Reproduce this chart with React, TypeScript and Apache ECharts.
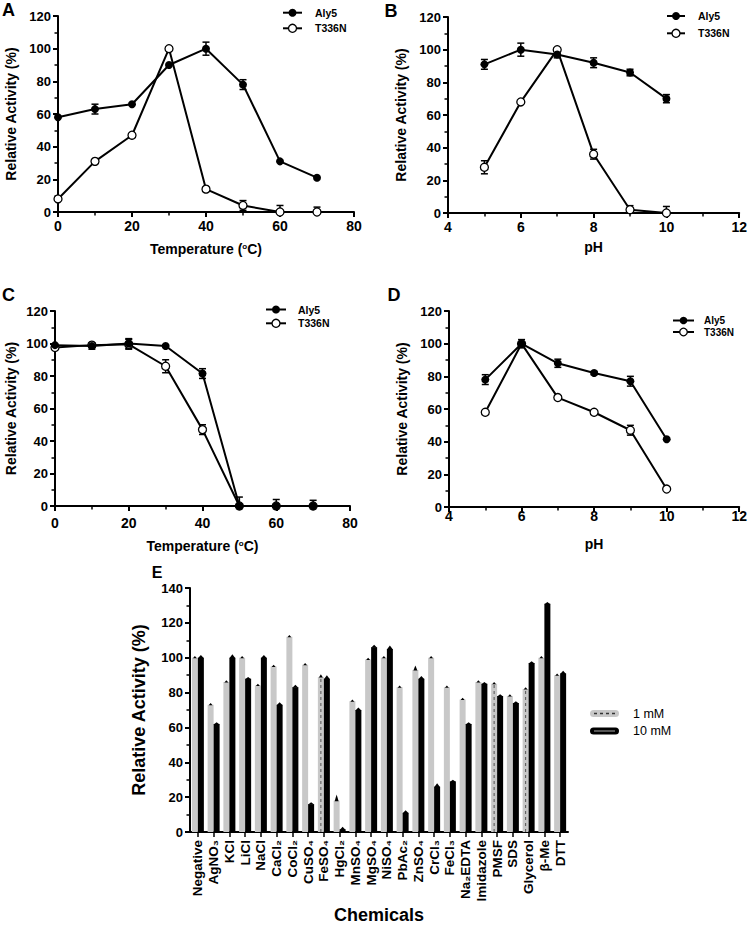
import React, { useEffect, useRef } from 'react';
import * as echarts from 'echarts';

const FONT = "'Liberation Sans', Arial, Helvetica, sans-serif";

const seriesNames = ['Aly5', 'T336N'];
const panelLetters = ['A', 'B', 'C', 'D', 'E'];

const temperatureX = [0, 10, 20, 30, 40, 50, 60, 70];
const pHX = [5, 6, 7, 8, 9, 10];

// Panel A: optimal temperature
const aAly5 = [58, 63, 66, 90, 100, 78, 31, 21];
const aAly5Err = [0, 3, 0, 0, 4, 3, 0, 0];
const aT336N = [8, 31, 47, 100, 14, 4, 0, 0];
const aT336NErr = [0, 0, 0, 0, 0, 3, 4, 3];

// Panel B: optimal pH
const bAly5 = [91, 100, 97, 92, 86, 70];
const bAly5Err = [3, 4, 2, 3, 2, 2.5];
const bT336N = [28, 68, 100, 36, 2, 0];
const bT336NErr = [4, 0, 0, 3, 2.5, 4];

// Panel C: thermal stability
const cAly5 = [99, 98.5, 100, 98.5, 81.5, 0, 0, 0];
const cAly5Err = [0, 2, 3, 0, 3, 0, 0, 0];
const cT336N = [97.5, 99, 99.5, 86, 47, 0, 0, 0];
const cT336NErr = [0, 0, 3, 4, 3, 5.5, 4, 3.5];

// Panel D: pH stability
const dAly5 = [78, 100, 88, 82, 77, 41.5];
const dAly5Err = [3, 2.5, 2.5, 1, 3, 0];
const dT336N = [58, 100, 67, 58, 47, 11];
const dT336NErr = [0, 0, 0, 0, 3, 0];

// Panel E: chemicals
const chemicals = ['Negative', 'AgNO₃', 'KCl', 'LiCl', 'NaCl', 'CaCl₂', 'CoCl₂', 'CuSO₄', 'FeSO₄', 'HgCl₂', 'MnSO₄', 'MgSO₄', 'NiSO₄', 'PbAc₂', 'ZnSO₄', 'CrCl₃', 'FeCl₃', 'Na₂EDTA', 'Imidazole', 'PMSF', 'SDS', 'Glycerol', 'β-Me', 'DTT'];
const concentrationNames = ['1 mM', '10 mM'];
const oneMM = [100, 73, 86, 100, 84, 95, 112, 96, 89, 18, 75, 99, 100, 83, 93, 100, 83, 76, 86, 85, 78, 82, 100, 90];
const oneMMErr = [1, 1, 1, 1, 1, 1, 1, 1, 1.5, 3.5, 1, 1, 1, 1, 2.5, 1, 1, 1, 1, 1, 1, 1, 1, 1];
const tenMM = [100, 62, 100, 88, 100, 73, 83, 16, 88, 1.5, 70, 106, 105, 11, 88, 26, 29, 62, 85, 78, 74, 97, 131, 91];
const tenMMErr = [1.5, 1, 2, 1, 1.5, 1.5, 1.5, 1, 2, 1.5, 1.5, 1.5, 2, 1.5, 1.5, 2, 1, 1, 1, 1, 1, 1, 1, 1.5];
const dashedOneMM = ['FeSO₄', 'PMSF', 'Glycerol'];

const BAR_W = 6;

function errRender(params: any, api: any) {
  const x = api.value(0);
  const y = api.value(1);
  const e = api.value(2);
  const low = y - e;
  const pTop = api.coord([x, y + e]);
  const pBot = api.coord([x, Math.max(low, 0)]);
  const cw = 3.5;
  const st = { stroke: '#000', lineWidth: 1.5 };
  const children: any[] = [
    { type: 'line', shape: { x1: pTop[0], y1: pTop[1], x2: pBot[0], y2: pBot[1] }, style: st },
    { type: 'line', shape: { x1: pTop[0] - cw, y1: pTop[1], x2: pTop[0] + cw, y2: pTop[1] }, style: st },
  ];
  if (low > 0) {
    children.push({ type: 'line', shape: { x1: pBot[0] - cw, y1: pBot[1], x2: pBot[0] + cw, y2: pBot[1] }, style: st });
  }
  return { type: 'group', children };
}

function capRender(offset: number, halfW: number) {
  return (params: any, api: any) => {
    const i = api.value(0);
    const v = api.value(1);
    const e = api.value(2);
    const b = api.coord([i, v]);
    const t = api.coord([i, v + e]);
    const x = b[0] + offset;
    return {
      type: 'polygon',
      shape: { points: [[x - halfW, b[1] + 0.5], [x, t[1]], [x + halfW, b[1] + 0.5]] },
      style: { fill: '#000' },
    };
  };
}

function dashRender(params: any, api: any) {
  const i = api.value(0);
  const v = api.value(1);
  const b = api.coord([i, 0]);
  const t = api.coord([i, v]);
  const x = b[0] - BAR_W / 2;
  return {
    type: 'line',
    shape: { x1: x, y1: b[1], x2: x, y2: t[1] },
    style: { stroke: '#555', lineWidth: 1, lineDash: [3, 3] },
  };
}

const boldText = (size: number) => ({ color: '#000', fontFamily: FONT, fontWeight: 'bold' as const, fontSize: size });

function lineLegend(x1: number, x2: number, textX: number, y1: number, y2: number, fs = 10.5, r = 4) {
  const cx = (x1 + x2) / 2;
  const txt = (s: string, y: number) => ({
    type: 'text', x: textX, y,
    style: { text: s, fill: '#000', font: `bold ${fs}px ${FONT}`, textAlign: 'left', textVerticalAlign: 'middle', align: 'left', verticalAlign: 'middle' },
  });
  return [
    { type: 'line', shape: { x1, y1, x2, y2: y1 }, style: { stroke: '#000', lineWidth: 2 } },
    { type: 'circle', shape: { cx, cy: y1, r }, style: { fill: '#000' } },
    txt(seriesNames[0], y1),
    { type: 'line', shape: { x1, y1: y2, x2, y2 }, style: { stroke: '#000', lineWidth: 2 } },
    { type: 'circle', shape: { cx, cy: y2, r }, style: { fill: '#fff', stroke: '#000', lineWidth: 1.3 } },
    txt(seriesNames[1], y2),
  ];
}

function letter(s: string, x: number, y: number, size = 18) {
  return {
    type: 'text', x, y,
    style: { text: s, fill: '#000', font: `bold ${size}px ${FONT}`, textAlign: 'center', textVerticalAlign: 'middle', align: 'center', verticalAlign: 'middle' },
  };
}

function buildOption() {
  const panels = [
    { xs: temperatureX, aly: aAly5, alyE: aAly5Err, t: aT336N, tE: aT336NErr, min: 0, max: 80, int: 20, temp: true, lblMargin: 7, nameGap: 30, yGap: 40 },
    { xs: pHX, aly: bAly5, alyE: bAly5Err, t: bT336N, tE: bT336NErr, min: 4, max: 12, int: 2, temp: false, lblMargin: 7, nameGap: 27, yGap: 40 },
    { xs: temperatureX, aly: cAly5, alyE: cAly5Err, t: cT336N, tE: cT336NErr, min: 0, max: 80, int: 20, temp: true, lblMargin: 10, nameGap: 33, yGap: 37 },
    { xs: pHX, aly: dAly5, alyE: dAly5Err, t: dT336N, tE: dT336NErr, min: 4, max: 12, int: 2, temp: false, lblMargin: 2, nameGap: 30, yGap: 40 },
  ];

  const grids = [
    { left: 58, top: 16, width: 296, height: 196 },
    { left: 448, top: 17, width: 294, height: 196 },
    { left: 55, top: 311, width: 295, height: 195 },
    { left: 449, top: 311, width: 293, height: 196 },
    { left: 190, top: 588, width: 378, height: 246 },
  ];

  const axisLine = { show: true, onZero: false, lineStyle: { color: '#000', width: 2 } };
  const axisTick = { show: true, length: 5, lineStyle: { color: '#000', width: 2 } };
  const minorTick = { show: true, splitNumber: 2, length: 3.5, lineStyle: { color: '#000', width: 1.5 } };

  const xAxis: any[] = [];
  const yAxis: any[] = [];
  const series: any[] = [];

  panels.forEach((p, gi) => {
    xAxis.push({
      gridIndex: gi, type: 'value', min: p.min, max: p.max, interval: p.int,
      axisLine, axisTick, minorTick, splitLine: { show: false }, minorSplitLine: { show: false },
      axisLabel: { ...boldText(14), margin: p.lblMargin },
      name: p.temp ? 'Temperature ({sup|o}C)' : 'pH',
      nameLocation: 'middle', nameGap: p.nameGap,
      nameTextStyle: { ...boldText(14), rich: { sup: { ...boldText(8), verticalAlign: 'top' } } },
    });
    yAxis.push({
      gridIndex: gi, type: 'value', min: 0, max: 120, interval: 20,
      axisLine, axisTick, minorTick, splitLine: { show: false }, minorSplitLine: { show: false },
      axisLabel: { ...boldText(13), margin: 7 },
      name: 'Relative Activity (%)', nameLocation: 'middle', nameGap: p.yGap,
      nameTextStyle: boldText(14),
    });
    const mk = (ys: number[], es: number[]) => p.xs.map((x, j) => [x, ys[j], es[j]]).filter((d) => d[2] > 0);
    series.push({
      type: 'custom', xAxisIndex: gi, yAxisIndex: gi, renderItem: errRender, data: mk(p.t, p.tE), z: 1, silent: true,
    });
    series.push({
      type: 'custom', xAxisIndex: gi, yAxisIndex: gi, renderItem: errRender, data: mk(p.aly, p.alyE), z: 1, silent: true,
    });
    series.push({
      type: 'line', name: seriesNames[1], xAxisIndex: gi, yAxisIndex: gi,
      data: p.xs.map((x, j) => [x, p.t[j]]),
      symbol: 'circle', symbolSize: 8,
      lineStyle: { color: '#000', width: 2 },
      itemStyle: { color: '#fff', borderColor: '#000', borderWidth: 1.3 },
      z: 3,
    });
    series.push({
      type: 'line', name: seriesNames[0], xAxisIndex: gi, yAxisIndex: gi,
      data: p.xs.map((x, j) => [x, p.aly[j]]),
      symbol: 'circle', symbolSize: 8,
      lineStyle: { color: '#000', width: 2 },
      itemStyle: { color: '#000' },
      z: 4,
    });
  });

  // Panel E
  xAxis.push({
    gridIndex: 4, type: 'category', data: chemicals,
    axisLine: { show: true, lineStyle: { color: '#000', width: 2 } },
    axisTick: { show: true, alignWithLabel: true, length: 5, lineStyle: { color: '#000', width: 1.5 } },
    axisLabel: { ...boldText(13.5), rotate: 90, interval: 0, margin: 8 },
    name: 'Chemicals', nameLocation: 'middle', nameGap: 74, nameTextStyle: boldText(18),
  });
  yAxis.push({
    gridIndex: 4, type: 'value', min: 0, max: 140, interval: 20,
    axisLine, axisTick, minorTick, splitLine: { show: false }, minorSplitLine: { show: false },
    axisLabel: { ...boldText(13), margin: 7 },
    name: 'Relative Activity (%)', nameLocation: 'middle', nameGap: 42, nameTextStyle: boldText(18),
  });
  series.push({
    type: 'bar', name: concentrationNames[0], xAxisIndex: 4, yAxisIndex: 4, data: oneMM,
    barWidth: BAR_W, barGap: '0%', itemStyle: { color: '#c8c8c8' },
  });
  series.push({
    type: 'bar', name: concentrationNames[1], xAxisIndex: 4, yAxisIndex: 4, data: tenMM,
    barWidth: BAR_W, barGap: '0%', itemStyle: { color: '#000' },
  });
  series.push({
    type: 'custom', xAxisIndex: 4, yAxisIndex: 4, z: 3, silent: true,
    renderItem: dashRender,
    data: oneMM.map((v, i) => [i, v]).filter((d) => dashedOneMM.includes(chemicals[d[0]])),
  });
  series.push({
    type: 'custom', xAxisIndex: 4, yAxisIndex: 4, z: 3, silent: true,
    renderItem: capRender(-BAR_W / 2, 2),
    data: oneMM.map((v, i) => [i, v, oneMMErr[i]]),
  });
  series.push({
    type: 'custom', xAxisIndex: 4, yAxisIndex: 4, z: 3, silent: true,
    renderItem: capRender(BAR_W / 2, 3),
    data: tenMM.map((v, i) => [i, v, tenMMErr[i]]),
  });

  const graphic: any[] = [
    letter(panelLetters[0], 8.5, 10),
    letter(panelLetters[1], 391, 10.5),
    letter(panelLetters[2], 8.5, 295),
    letter(panelLetters[3], 394, 295),
    letter(panelLetters[4], 157, 572, 16),
    ...lineLegend(283, 302, 315, 12.7, 28.3),
    ...lineLegend(667, 685, 698, 16, 33.3),
    ...lineLegend(266, 286, 298, 309.5, 323.3),
    ...lineLegend(673, 694, 704, 320.5, 332, 10, 3.8),
    // Panel E legend
    { type: 'rect', shape: { x: 590, y: 710, width: 29, height: 7, r: 3.5 }, style: { fill: '#c8c8c8' } },
    { type: 'line', shape: { x1: 594, y1: 713.5, x2: 615, y2: 713.5 }, style: { stroke: '#333', lineWidth: 1.5, lineDash: [3, 3] } },
    { type: 'rect', shape: { x: 590, y: 727.5, width: 29, height: 7, r: 3.5 }, style: { fill: '#000' } },
    { type: 'line', shape: { x1: 594, y1: 731, x2: 615, y2: 731 }, style: { stroke: '#aaa', lineWidth: 1 } },
    {
      type: 'text', x: 633, y: 713.5,
      style: { text: concentrationNames[0], fill: '#000', font: `12.5px ${FONT}`, textAlign: 'left', textVerticalAlign: 'middle', align: 'left', verticalAlign: 'middle' },
    },
    {
      type: 'text', x: 633, y: 731,
      style: { text: concentrationNames[1], fill: '#000', font: `12.5px ${FONT}`, textAlign: 'left', textVerticalAlign: 'middle', align: 'left', verticalAlign: 'middle' },
    },
  ];

  return {
    animation: false,
    backgroundColor: '#fff',
    grid: grids,
    xAxis,
    yAxis,
    series,
    graphic,
  };
}

export default function App() {
  const ref = useRef<HTMLDivElement>(null);
  useEffect(() => {
    const chart = echarts.init(ref.current!, null, { renderer: 'svg' });
    chart.setOption(buildOption() as any);
    return () => chart.dispose();
  }, []);
  return (
    <div
      ref={ref}
      style={{ position: 'absolute', left: 0, top: 0, width: 750, height: 925, background: '#fff' }}
    />
  );
}
